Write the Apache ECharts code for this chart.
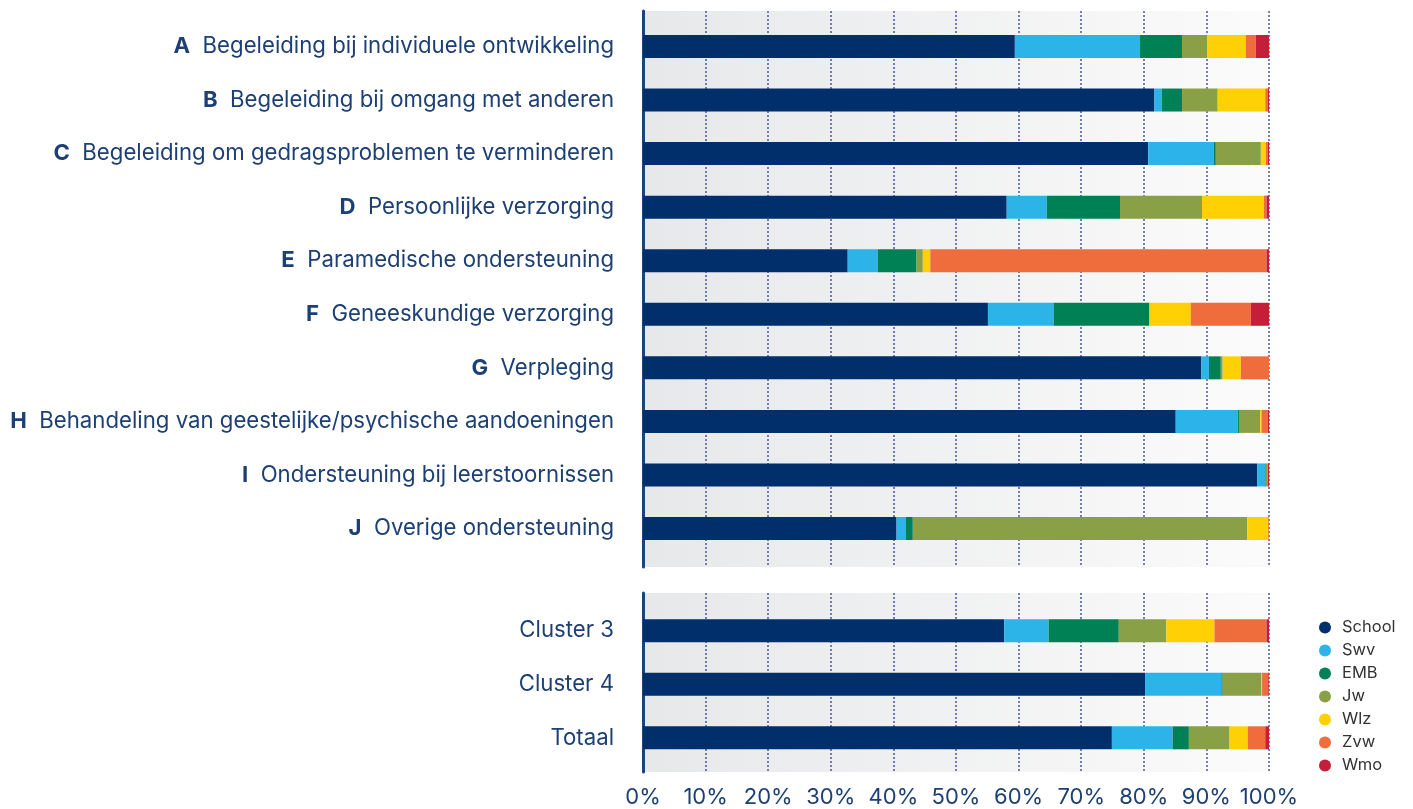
<!DOCTYPE html>
<html>
<head>
<meta charset="utf-8">
<script src="https://cdn.jsdelivr.net/npm/echarts@6/dist/echarts.min.js"></script>
<style>
  html, body { margin: 0; padding: 0; background: #ffffff; }
  #main { width: 1413px; height: 809px; }
</style>
</head>
<body>
<div id="main"></div>
<script>
var chartDom = document.getElementById('main');
var myChart = echarts.init(chartDom);
var option;

// categories
var letters = ['A', 'B', 'C', 'D', 'E', 'F', 'G', 'H', 'I', 'J'];
var topicsTop = [
  'Begeleiding bij individuele ontwikkeling',
  'Begeleiding bij omgang met anderen',
  'Begeleiding om gedragsproblemen te verminderen',
  'Persoonlijke verzorging',
  'Paramedische ondersteuning',
  'Geneeskundige verzorging',
  'Verpleging',
  'Behandeling van geestelijke/psychische aandoeningen',
  'Ondersteuning bij leerstoornissen',
  'Overige ondersteuning'
];
var categoriesBottom = ['Cluster 3', 'Cluster 4', 'Totaal'];

var seriesNames = ['School', 'Swv', 'EMB', 'Jw', 'Wlz', 'Zvw', 'Wmo'];
var colors = ['#002f6c', '#2cb4e8', '#008055', '#8aa046', '#ffd105', '#ef6c3c', '#c41e3a'];

// percentages, order: A..J, Cluster 3, Cluster 4, Totaal
var school = [59.4, 81.7, 80.7, 58.1, 32.7, 55.1, 89.2, 85.1, 98.1, 40.5, 57.7, 80.2, 74.9];
var swv    = [20.0,  1.2, 10.5,  6.4,  4.8, 10.5,  1.2,  9.9,  1.3,  1.5,  7.1, 12.2,  9.7];
var emb    = [ 6.7,  3.2,  0.3, 11.7,  6.2, 15.3,  1.9,  0.2,  0.1,  1.1, 11.2,  0.2,  2.6];
var jw     = [ 4.0,  5.7,  7.2, 13.1,  1.0,  0.0,  0.3,  3.4,  0.2, 53.4,  7.6,  6.2,  6.5];
var wlz    = [ 6.2,  7.6,  0.8,  9.9,  1.2,  6.6,  2.9,  0.2,  0.0,  3.4,  7.7,  0.1,  2.9];
var zvw    = [ 1.6,  0.4,  0.3,  0.4, 53.7,  9.6,  4.5,  1.0,  0.1,  0.1,  8.3,  1.0,  2.8];
var wmo    = [ 2.1,  0.2,  0.2,  0.4,  0.4,  2.9,  0.0,  0.2,  0.2,  0.0,  0.4,  0.1,  0.6];
var values = [school, swv, emb, jw, wlz, zvw, wmo];

var xTicks = [0, 10, 20, 30, 40, 50, 60, 70, 80, 90, 100];

var navy = '#1c3f74';
var fontFam = 'Inter, "Liberation Sans", Arial, sans-serif';
var labelSize = 22.2;

var bgGradient = new echarts.graphic.LinearGradient(0, 0, 1, 0, [
  { offset: 0, color: '#e7e8ea' },
  { offset: 1, color: '#fbfbfb' }
]);

function bgGrid(top, height) {
  return {
    left: 643, width: 626, top: top, height: height,
    show: true, backgroundColor: bgGradient, borderWidth: 0
  };
}

function bgXAxis(gridIndex, showLabels) {
  return {
    type: 'value', gridIndex: gridIndex, min: 0, max: 100, interval: 10,
    axisLine: { show: false },
    axisTick: { show: false },
    axisLabel: {
      show: showLabels, margin: 14, color: navy, fontSize: 22, fontFamily: fontFam,
      formatter: function (v) { return xTicks.indexOf(v) >= 0 ? v + '%' : ''; }
    },
    splitLine: {
      show: true,
      lineStyle: { color: '#4a5a93', width: 1.5, type: [2, 2] }
    }
  };
}

function bgYAxis(gridIndex) {
  return {
    type: 'value', gridIndex: gridIndex, min: 0, max: 1,
    position: 'left',
    axisLine: { show: true, onZero: false, lineStyle: { color: '#1d4477', width: 3 } },
    axisTick: { show: false },
    axisLabel: { show: false },
    splitLine: { show: false }
  };
}

function barXAxis(gridIndex) {
  return { type: 'value', gridIndex: gridIndex, min: 0, max: 100, show: false };
}

function barYAxis(gridIndex, data, rich) {
  return {
    type: 'category', gridIndex: gridIndex, data: data, inverse: true,
    axisLine: { show: false },
    axisTick: { show: false },
    splitLine: { show: false },
    axisLabel: {
      margin: 29, color: navy, fontSize: labelSize, fontFamily: fontFam,
      rich: rich
    }
  };
}

var topLabels = letters.map(function (l, i) {
  return '{b|' + l + '}  {n|' + topicsTop[i] + '}';
});

var richTop = {
  b: { fontWeight: 'bold', color: navy, fontSize: labelSize, fontFamily: fontFam },
  n: { color: navy, fontSize: labelSize, fontFamily: fontFam }
};

var series = [];
seriesNames.forEach(function (name, k) {
  series.push({
    name: name, type: 'bar', stack: 'top',
    xAxisIndex: 1, yAxisIndex: 1,
    barWidth: 23,
    itemStyle: { color: colors[k] },
    data: values[k].slice(0, 10)
  });
  series.push({
    name: name, type: 'bar', stack: 'bottom',
    xAxisIndex: 3, yAxisIndex: 3,
    barWidth: 23,
    itemStyle: { color: colors[k] },
    data: values[k].slice(10)
  });
});

option = {
  backgroundColor: '#ffffff',
  animation: false,
  legend: {
    data: seriesNames,
    orient: 'vertical',
    left: 1319, top: 619,
    padding: 0,
    icon: 'circle',
    itemWidth: 12, itemHeight: 12, itemGap: 6,
    textStyle: { color: '#333333', fontSize: 16.5, fontFamily: fontFam, padding: [0, 0, 0, 6] }
  },
  grid: [
    bgGrid(11, 556),
    { left: 643, width: 626, top: 19.7, height: 535.6 },
    bgGrid(593, 179),
    { left: 643, width: 626, top: 604, height: 160.6 }
  ],
  xAxis: [bgXAxis(0, false), barXAxis(1), bgXAxis(2, true), barXAxis(3)],
  yAxis: [bgYAxis(0), barYAxis(1, topLabels, richTop), bgYAxis(2), barYAxis(3, categoriesBottom, {})],
  series: series
};

option && myChart.setOption(option);
</script>
</body>
</html>
